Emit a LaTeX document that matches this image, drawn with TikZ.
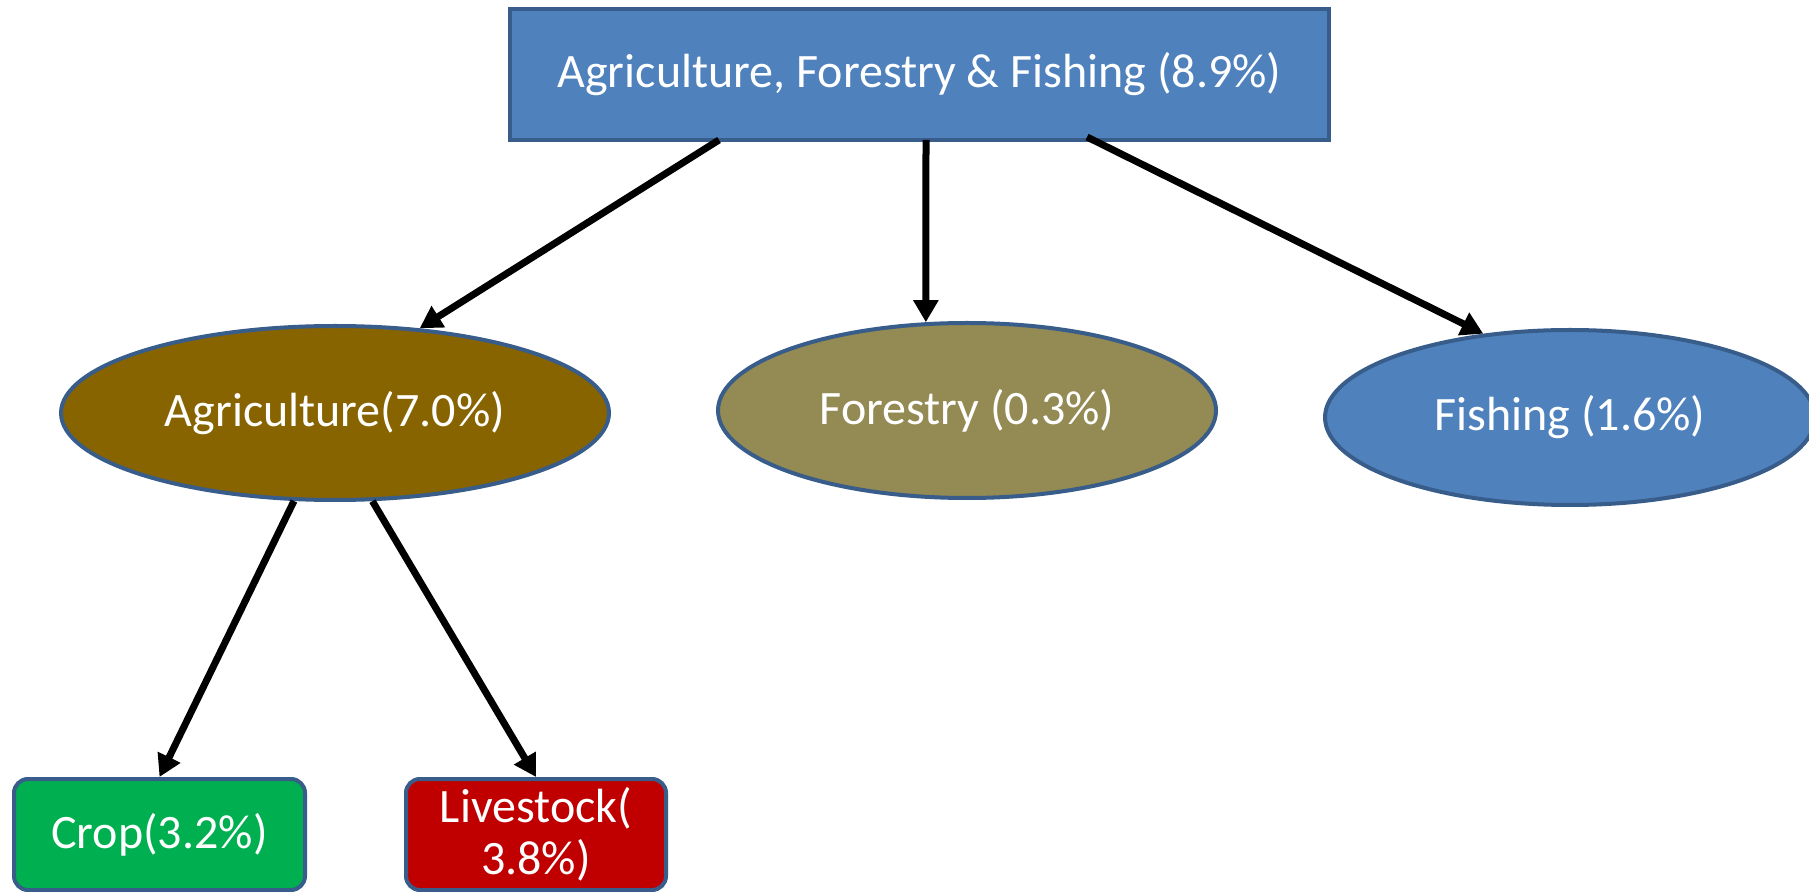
\documentclass[tikz,border=0pt]{standalone}
\usepackage{fontspec}
\setmainfont{Carlito}
\usetikzlibrary{shapes.geometric,arrows.meta}
\definecolor{boxblue}{HTML}{4F81BD}
\definecolor{edgeblue}{HTML}{385D8A}
\definecolor{agribrown}{HTML}{876400}
\definecolor{forestolive}{HTML}{948A54}
\definecolor{cropgreen}{HTML}{00B050}
\definecolor{livered}{HTML}{C00000}
\tikzset{
  lbl/.style={text=white, font=\fontsize{24}{28.5}\selectfont, inner sep=0pt, align=center},
  topbox/.style={lbl, draw=edgeblue, line width=2.2pt, fill=boxblue, rectangle},
  oval/.style={lbl, draw=edgeblue, line width=2pt, ellipse},
  leafbox/.style={lbl, draw=edgeblue, line width=2pt, rectangle, rounded corners=7pt},
  conn/.style={line width=3.5pt, -{Triangle[length=11pt,width=12pt]}}
}
\begin{document}
\begin{tikzpicture}[x=0.5pt,y=-0.5pt]
\path[use as bounding box, clip] (0,0) rectangle (1809,892);
\fill[white] (0,0) rectangle (1809,892);
\node[topbox, minimum width=409.5pt, minimum height=65.5pt] (top) at (919.5,74.5) {Agriculture, Forestry \& Fishing (8.9\%)};
\node[oval, fill=agribrown, minimum width=274pt, minimum height=87pt] (agri) at (335,413) {Agriculture(7.0\%)};
\node[oval, fill=forestolive, minimum width=249pt, minimum height=87.5pt] (forest) at (967,410.5) {Forestry (0.3\%)};
\node[oval, fill=boxblue, minimum width=245pt, minimum height=87.5pt] (fish) at (1570,417.5) {Fishing (1.6\%)};
\node[leafbox, fill=cropgreen, minimum width=145.5pt, minimum height=55.5pt] (crop) at (159.5,834.5) {Crop(3.2\%)};
\node[leafbox, fill=livered, minimum width=130pt, minimum height=55.5pt] (live) at (536,834.5) {\raisebox{-3pt}{\shortstack{Livestock(\\[2pt]3.8\%)}}};
\coordinate (s1) at (719,140);
\coordinate (s2) at (926,140);
\coordinate (s3) at (1087,137);
\draw[conn] (s1) -- (agri.45);
\draw[conn] (s2) -- (forest.115.5);
\draw[conn] (s3) -- (fish.136);
\draw[conn] (agri.245.3) -- (crop.north);
\draw[conn] (agri.293.6) -- (live.north);
\end{tikzpicture}
\end{document}
